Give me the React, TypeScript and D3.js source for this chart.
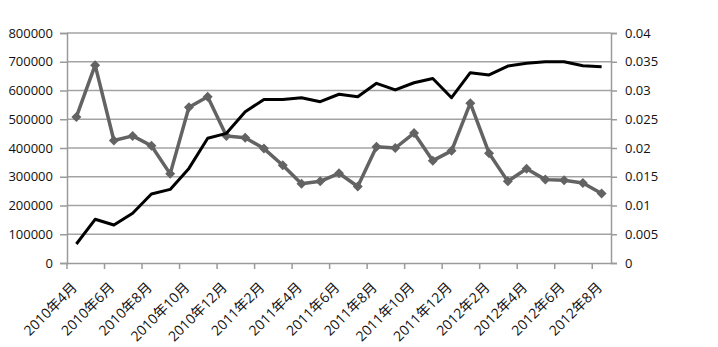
import React, { useEffect, useRef } from 'react';
import * as d3 from 'd3';

// monthly categories, 2010-04 .. 2012-08
const months = [
  '2010年4月', '2010年5月', '2010年6月', '2010年7月', '2010年8月', '2010年9月',
  '2010年10月', '2010年11月', '2010年12月', '2011年1月', '2011年2月', '2011年3月',
  '2011年4月', '2011年5月', '2011年6月', '2011年7月', '2011年8月', '2011年9月',
  '2011年10月', '2011年11月', '2011年12月', '2012年1月', '2012年2月', '2012年3月',
  '2012年4月', '2012年5月', '2012年6月', '2012年7月', '2012年8月'
];

// black line, left axis
const blackValues = [
  66000, 152000, 132000, 173000, 240000, 256000, 329000, 434000, 451000, 526000,
  569000, 569000, 575000, 561000, 587000, 578000, 625000, 602000, 627000, 642000,
  575000, 662000, 654000, 685000, 695000, 700000, 700000, 686000, 683000
];

// grey diamond line, right axis
const greyValues = [
  0.0254, 0.0344, 0.0213, 0.0221, 0.0204, 0.0155, 0.0271, 0.0289, 0.0221, 0.0218,
  0.0199, 0.017, 0.0138, 0.0142, 0.0156, 0.0133, 0.0202, 0.02, 0.0226, 0.0178,
  0.0195, 0.0278, 0.0191, 0.0142, 0.0164, 0.0145, 0.0144, 0.0139, 0.0121
];

const leftTicks = [0, 100000, 200000, 300000, 400000, 500000, 600000, 700000, 800000];
const rightTicks = [0, 0.005, 0.01, 0.015, 0.02, 0.025, 0.03, 0.035, 0.04];

const App = () => {
  const ref = useRef<SVGSVGElement>(null);

  useEffect(() => {
    const svg = d3.select(ref.current);
    svg.selectAll('*').remove();

    const left = 67, right = 611, top = 33, bottom = 263;
    const font = '"Open Sans", "Noto Sans CJK SC", sans-serif';

    const x = d3.scaleBand<string>().domain(months).range([left, right]);
    const yL = d3.scaleLinear().domain([0, 800000]).range([bottom, top]);
    const yR = d3.scaleLinear().domain([0, 0.04]).range([bottom, top]);
    const cx = (d: string) => (x(d) as number) + x.bandwidth() / 2;

    // gridlines
    svg.append('g')
      .selectAll('line')
      .data(leftTicks.slice(1))
      .enter().append('line')
      .attr('x1', left).attr('x2', right)
      .attr('y1', d => yL(d)).attr('y2', d => yL(d))
      .attr('stroke', '#a3a3a3').attr('stroke-width', 1.5);

    // left axis
    const gL = svg.append('g').attr('transform', `translate(${left},0)`)
      .call(d3.axisLeft(yL).tickValues(leftTicks).tickSize(7).tickPadding(7).tickFormat(d3.format('d')));
    // right axis
    const gR = svg.append('g').attr('transform', `translate(${right},0)`)
      .call(d3.axisRight(yR).tickValues(rightTicks).tickSize(6).tickPadding(8).tickFormat(d => String(+d)));
    // bottom axis
    const gB = svg.append('g').attr('transform', `translate(0,${bottom})`)
      .call(d3.axisBottom(x).tickValues(months.filter((_, i) => i % 2 === 0)).tickSize(0).tickFormat(() => ''));

    [gL, gR, gB].forEach(g => {
      g.select('.domain').attr('stroke', '#9a9a9a').attr('stroke-width', 1.5);
      g.selectAll('.tick line').attr('stroke', '#9a9a9a').attr('stroke-width', 1.5);
      g.selectAll('.tick text').attr('fill', '#111').attr('font-size', 13).attr('font-family', font);
    });

    // bottom tick marks at every second category boundary
    const step = x.step();
    svg.append('g')
      .selectAll('line')
      .data(d3.range(0, months.length + 1, 2))
      .enter().append('line')
      .attr('x1', i => left + i * step).attr('x2', i => left + i * step)
      .attr('y1', bottom).attr('y2', bottom + 6)
      .attr('stroke', '#9a9a9a').attr('stroke-width', 1.5);

    // rotated category labels
    svg.append('g')
      .selectAll('text')
      .data(months.filter((_, i) => i % 2 === 0))
      .enter().append('text')
      .attr('transform', d => `translate(${cx(d) - 2},${bottom + 22}) rotate(-45)`)
      .attr('text-anchor', 'end')
      .attr('dy', '0.35em')
      .attr('font-size', 14)
      .attr('font-family', font)
      .attr('fill', '#111')
      .text(d => d);

    // grey diamond series
    const greyLine = d3.line<number>()
      .x((_, i) => cx(months[i]))
      .y(d => yR(d));
    svg.append('path')
      .datum(greyValues)
      .attr('d', greyLine)
      .attr('fill', 'none')
      .attr('stroke', '#636363')
      .attr('stroke-width', 3.5)
      .attr('stroke-linejoin', 'round');
    svg.append('g')
      .selectAll('path')
      .data(greyValues)
      .enter().append('path')
      .attr('d', d3.symbol().type(d3.symbolSquare).size(50))
      .attr('transform', (d, i) => `translate(${cx(months[i])},${yR(d)}) rotate(45)`)
      .attr('fill', '#636363');

    // black series
    const blackLine = d3.line<number>()
      .x((_, i) => cx(months[i]))
      .y(d => yL(d));
    svg.append('path')
      .datum(blackValues)
      .attr('d', blackLine)
      .attr('fill', 'none')
      .attr('stroke', '#000')
      .attr('stroke-width', 3)
      .attr('stroke-linejoin', 'round');
  }, []);

  return (
    <svg ref={ref} width={718} height={347}
      style={{ position: 'absolute', left: 0, top: 0, background: '#fff' }} />
  );
};

export default App;
